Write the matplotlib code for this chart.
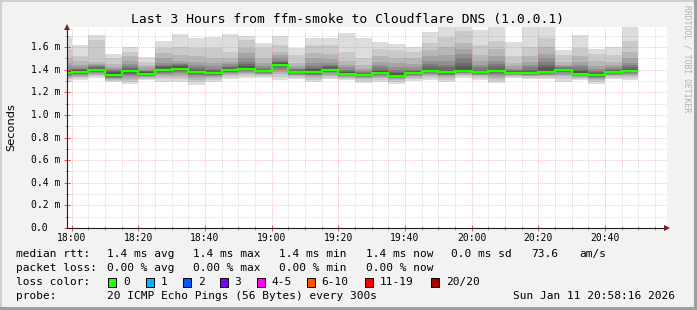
import matplotlib
matplotlib.use('Agg')
import matplotlib.pyplot as plt
import numpy as np
from matplotlib.patches import Rectangle

# ---------------- data ----------------
title = "Last 3 Hours from ffm-smoke to Cloudflare DNS (1.0.0.1)"
# bar start times in minutes relative to 18:00 (5 minute steps)
bar_start = list(range(-5, 170, 5))
median_ms = [1.373, 1.382, 1.400, 1.353, 1.388, 1.365, 1.400, 1.409, 1.382, 1.370,
             1.400, 1.409, 1.391, 1.444, 1.382, 1.382, 1.400, 1.365, 1.356, 1.373,
             1.347, 1.373, 1.391, 1.382, 1.391, 1.382, 1.391, 1.373, 1.373, 1.382,
             1.400, 1.365, 1.353, 1.382, 1.391]
# upper pings per bar: ping 20 (max) down to ping 11
pings_hi = [
    [1.690, 1.58, 1.50, 1.46, 1.43, 1.41, 1.40, 1.39, 1.385, 1.38],
    [1.618, 1.52, 1.477, 1.44, 1.42, 1.41, 1.405, 1.40, 1.395, 1.39],
    [1.706, 1.66, 1.47, 1.45, 1.44, 1.43, 1.42, 1.415, 1.41, 1.405],
    [1.538, 1.50, 1.447, 1.42, 1.41, 1.40, 1.39, 1.38, 1.37, 1.36],
    [1.597, 1.56, 1.52, 1.48, 1.45, 1.43, 1.415, 1.405, 1.40, 1.395],
    [1.509, 1.47, 1.44, 1.42, 1.40, 1.39, 1.385, 1.38, 1.375, 1.37],
    [1.653, 1.59, 1.55, 1.50, 1.46, 1.44, 1.43, 1.42, 1.41, 1.405],
    [1.715, 1.60, 1.53, 1.48, 1.46, 1.45, 1.44, 1.43, 1.42, 1.415],
    [1.683, 1.59, 1.52, 1.47, 1.44, 1.42, 1.41, 1.40, 1.39, 1.385],
    [1.690, 1.59, 1.50, 1.46, 1.43, 1.41, 1.40, 1.39, 1.38, 1.375],
    [1.712, 1.56, 1.50, 1.47, 1.45, 1.435, 1.425, 1.415, 1.41, 1.405],
    [1.697, 1.66, 1.59, 1.55, 1.50, 1.47, 1.45, 1.435, 1.425, 1.415],
    [1.633, 1.59, 1.50, 1.46, 1.43, 1.415, 1.405, 1.40, 1.395, 1.393],
    [1.697, 1.62, 1.56, 1.53, 1.50, 1.48, 1.47, 1.46, 1.455, 1.45],
    [1.594, 1.53, 1.46, 1.43, 1.415, 1.405, 1.40, 1.395, 1.39, 1.385],
    [1.683, 1.62, 1.55, 1.50, 1.46, 1.43, 1.415, 1.405, 1.395, 1.388],
    [1.677, 1.62, 1.54, 1.49, 1.46, 1.44, 1.43, 1.42, 1.41, 1.405],
    [1.720, 1.56, 1.48, 1.44, 1.42, 1.40, 1.39, 1.38, 1.375, 1.37],
    [1.677, 1.50, 1.44, 1.41, 1.39, 1.38, 1.37, 1.365, 1.36, 1.358],
    [1.647, 1.58, 1.52, 1.47, 1.44, 1.42, 1.40, 1.39, 1.385, 1.378],
    [1.624, 1.57, 1.50, 1.46, 1.42, 1.40, 1.38, 1.37, 1.36, 1.352],
    [1.603, 1.56, 1.50, 1.45, 1.42, 1.40, 1.39, 1.385, 1.38, 1.376],
    [1.730, 1.64, 1.57, 1.52, 1.48, 1.45, 1.43, 1.41, 1.40, 1.395],
    [1.800, 1.69, 1.60, 1.53, 1.48, 1.44, 1.42, 1.40, 1.39, 1.386],
    [1.800, 1.74, 1.64, 1.58, 1.54, 1.50, 1.46, 1.43, 1.41, 1.40],
    [1.750, 1.62, 1.53, 1.48, 1.44, 1.42, 1.40, 1.395, 1.39, 1.386],
    [1.780, 1.65, 1.58, 1.52, 1.48, 1.45, 1.43, 1.41, 1.40, 1.395],
    [1.647, 1.52, 1.46, 1.43, 1.41, 1.40, 1.39, 1.385, 1.38, 1.376],
    [1.780, 1.60, 1.52, 1.47, 1.44, 1.42, 1.40, 1.39, 1.38, 1.376],
    [1.780, 1.68, 1.60, 1.54, 1.50, 1.47, 1.44, 1.42, 1.40, 1.39],
    [1.574, 1.53, 1.47, 1.44, 1.43, 1.42, 1.415, 1.41, 1.405, 1.402],
    [1.706, 1.59, 1.52, 1.47, 1.44, 1.42, 1.40, 1.385, 1.375, 1.37],
    [1.583, 1.54, 1.48, 1.43, 1.41, 1.39, 1.38, 1.37, 1.36, 1.356],
    [1.603, 1.53, 1.47, 1.44, 1.42, 1.41, 1.40, 1.395, 1.39, 1.386],
    [1.780, 1.65, 1.56, 1.50, 1.46, 1.44, 1.42, 1.41, 1.40, 1.395],
]
# lower pings per bar: ping 1 (min) up to ping 10
pings_lo = [
    [1.294, 1.315, 1.33, 1.338, 1.345, 1.35, 1.355, 1.36, 1.365, 1.37],
    [1.309, 1.325, 1.335, 1.345, 1.352, 1.358, 1.363, 1.368, 1.373, 1.378],
    [1.324, 1.34, 1.355, 1.365, 1.372, 1.378, 1.383, 1.388, 1.393, 1.397],
    [1.288, 1.30, 1.31, 1.32, 1.325, 1.33, 1.335, 1.34, 1.345, 1.35],
    [1.273, 1.29, 1.31, 1.325, 1.345, 1.355, 1.365, 1.372, 1.378, 1.384],
    [1.309, 1.32, 1.33, 1.335, 1.34, 1.345, 1.35, 1.355, 1.36, 1.362],
    [1.294, 1.315, 1.335, 1.35, 1.36, 1.37, 1.378, 1.385, 1.39, 1.396],
    [1.294, 1.315, 1.335, 1.355, 1.37, 1.38, 1.388, 1.395, 1.40, 1.405],
    [1.264, 1.29, 1.31, 1.33, 1.345, 1.355, 1.362, 1.368, 1.373, 1.378],
    [1.294, 1.31, 1.325, 1.335, 1.345, 1.35, 1.355, 1.36, 1.364, 1.367],
    [1.317, 1.335, 1.35, 1.36, 1.368, 1.375, 1.382, 1.388, 1.393, 1.397],
    [1.324, 1.345, 1.36, 1.37, 1.38, 1.387, 1.393, 1.398, 1.402, 1.405],
    [1.324, 1.34, 1.35, 1.36, 1.366, 1.372, 1.377, 1.381, 1.385, 1.388],
    [1.309, 1.335, 1.36, 1.38, 1.395, 1.41, 1.42, 1.428, 1.435, 1.44],
    [1.317, 1.33, 1.34, 1.35, 1.356, 1.362, 1.367, 1.372, 1.376, 1.379],
    [1.294, 1.31, 1.325, 1.34, 1.35, 1.357, 1.363, 1.368, 1.373, 1.378],
    [1.315, 1.33, 1.345, 1.357, 1.367, 1.375, 1.382, 1.388, 1.393, 1.397],
    [1.309, 1.32, 1.33, 1.338, 1.344, 1.349, 1.353, 1.357, 1.36, 1.362],
    [1.279, 1.30, 1.315, 1.325, 1.333, 1.339, 1.344, 1.348, 1.351, 1.353],
    [1.294, 1.31, 1.325, 1.337, 1.346, 1.353, 1.359, 1.364, 1.368, 1.37],
    [1.270, 1.29, 1.305, 1.316, 1.325, 1.331, 1.336, 1.34, 1.343, 1.345],
    [1.300, 1.315, 1.33, 1.34, 1.347, 1.353, 1.359, 1.364, 1.368, 1.37],
    [1.309, 1.33, 1.345, 1.356, 1.365, 1.372, 1.377, 1.381, 1.385, 1.388],
    [1.294, 1.31, 1.325, 1.34, 1.35, 1.357, 1.363, 1.368, 1.373, 1.378],
    [1.324, 1.34, 1.352, 1.361, 1.368, 1.374, 1.379, 1.383, 1.386, 1.388],
    [1.309, 1.325, 1.34, 1.35, 1.357, 1.363, 1.368, 1.372, 1.376, 1.379],
    [1.279, 1.30, 1.32, 1.337, 1.35, 1.36, 1.368, 1.375, 1.381, 1.386],
    [1.324, 1.335, 1.345, 1.351, 1.356, 1.36, 1.363, 1.366, 1.368, 1.37],
    [1.315, 1.33, 1.34, 1.346, 1.351, 1.356, 1.36, 1.364, 1.367, 1.37],
    [1.317, 1.33, 1.34, 1.35, 1.357, 1.362, 1.367, 1.372, 1.376, 1.379],
    [1.294, 1.32, 1.34, 1.355, 1.366, 1.375, 1.382, 1.388, 1.393, 1.397],
    [1.309, 1.32, 1.33, 1.338, 1.344, 1.349, 1.353, 1.357, 1.36, 1.362],
    [1.270, 1.29, 1.305, 1.316, 1.326, 1.333, 1.339, 1.344, 1.348, 1.35],
    [1.315, 1.33, 1.34, 1.35, 1.357, 1.363, 1.368, 1.372, 1.376, 1.379],
    [1.309, 1.33, 1.345, 1.356, 1.365, 1.372, 1.377, 1.381, 1.385, 1.388],
]
xtick_min = [0, 20, 40, 60, 80, 100, 120, 140, 160]
xtick_labels = ["18:00", "18:20", "18:40", "19:00", "19:20", "19:40", "20:00", "20:20", "20:40"]
ytick_vals = [0.0, 0.2, 0.4, 0.6, 0.8, 1.0, 1.2, 1.4, 1.6]
ytick_labels = ["0.0", "0.2 m", "0.4 m", "0.6 m", "0.8 m", "1.0 m", "1.2 m", "1.4 m", "1.6 m"]
loss_labels = ["0", "1", "2", "3", "4-5", "6-10", "11-19", "20/20"]
loss_colors = ["#26ff00", "#00b8ff", "#0059ff", "#7e00ff", "#ff00ff", "#ff5500", "#ff0000", "#a10000"]

# ---------------- figure ----------------
W, H = 697, 310
MONO = "DejaVu Sans Mono"
fig = plt.figure(figsize=(W / 100, H / 100), dpi=100)
fig.patch.set_facecolor("#f2f2f2")

def fx(x):
    return x / W

def fy(y):
    return 1 - y / H

# 3d-ish border
for (x0, y0, w, h, c) in [(0, 0, W, 2, "#cfcfcf"), (0, 0, 2, H, "#cfcfcf"),
                          (0, H - 3, W, 3, "#9e9e9e"), (W - 3, 0, 3, H, "#9e9e9e")]:
    fig.patches.append(Rectangle((fx(x0), fy(y0 + h)), w / W, h / H, transform=fig.transFigure,
                                 facecolor=c, edgecolor="none", zorder=0))

L, R, T, B = 67, 667, 27, 228
ax = fig.add_axes([fx(L), fy(B), (R - L) / W, (B - T) / H])
ax.set_facecolor("white")
ax.set_xlim(-1.4, 178.6)
ax.set_ylim(0, (B - T) / 113.1)

edges = bar_start + [bar_start[-1] + 5]
hi = np.array(pings_hi)
lo = np.array(pings_lo)
half = 10
for k in range(1, half + 1):
    col = int(190 / half * (half - k)) + 50
    c = "#%02x%02x%02x" % (col, col, col)
    ax.stairs(hi[:, k - 1], edges, baseline=lo[:, k - 1], fill=True, color=c, linewidth=0,
              zorder=1, antialiased=False)

# grid
for xm in range(0, 180, 5):
    major = (xm % 20 == 0)
    ax.axvline(xm, color=("#de4f4f" if major else "#8f8f8f"), alpha=(0.5 if major else 0.45),
               lw=0.6, linestyle=(0, (1, 1.6)), zorder=2)
for yv in np.arange(0.1, 1.75, 0.1):
    major = (round(yv * 10) % 2 == 0)
    ax.axhline(yv, color=("#de4f4f" if major else "#8f8f8f"), alpha=(0.5 if major else 0.45),
               lw=0.6, linestyle=(0, (1, 1.6)), zorder=2)

# median
ax.stairs(median_ms, edges, baseline=None, color="#26ff00", linewidth=1.7, zorder=4)

# axes
for s in ["top", "right"]:
    ax.spines[s].set_visible(False)
for s in ["left", "bottom"]:
    ax.spines[s].set_color("#1f1f1f")
    ax.spines[s].set_linewidth(0.8)
    ax.spines[s].set_zorder(5)
ax.set_xticks(xtick_min)
ax.set_xticks(list(range(0, 180, 5)), minor=True)
ax.set_yticks(ytick_vals)
ax.set_yticks(list(np.arange(0.1, 1.75, 0.2)), minor=True)
ax.set_xticklabels([])
ax.set_yticklabels([])
ax.tick_params(which="major", direction="inout", length=4, width=0.7, color="#de4f4f")
ax.tick_params(which="minor", direction="inout", length=3, width=0.6, color="#8f8f8f")

# arrows
ax.plot([0], [1.0], marker="^", color="#801f1f", markersize=4.5, transform=ax.transAxes,
        clip_on=False, zorder=6, markeredgewidth=0)
ax.plot([1.0], [0], marker=">", color="#801f1f", markersize=4.5, transform=ax.transAxes,
        clip_on=False, zorder=6, markeredgewidth=0)

# tick labels
for xm, lab in zip(xtick_min, xtick_labels):
    ax.text(xm, (B - 238) / (B - T), lab, transform=ax.get_xaxis_transform(), ha="center",
            va="center", family=MONO, fontsize=7)
for yv, lab in zip(ytick_vals, ytick_labels):
    ax.text((30.7 - L) / (R - L), yv, lab, transform=ax.get_yaxis_transform(), ha="left",
            va="center", family=MONO, fontsize=7)

# title and labels
fig.text(fx(348), fy(19), title, ha="center", va="center", family=MONO, fontsize=9.4)
fig.text(fx(11), fy(127.5), "Seconds", rotation=90, ha="center", va="center",
         family="DejaVu Sans", fontsize=8.2)
fig.text(fx(687), fy(5), "RRDTOOL / TOBI OETIKER", rotation=270, ha="center", va="top",
         family=MONO, fontsize=5.8, color="#b0b0b0")

# legend lines
fs = 8
def t(x, y, s):
    fig.text(fx(x), fy(y), s, ha="left", va="center", family=MONO, fontsize=fs)

t(16, 254, "median rtt:")
for x, s in [(107, "1.4 ms avg"), (193, "1.4 ms max"), (279, "1.4 ms min"),
             (366, "1.4 ms now"), (451, "0.0 ms sd"), (531, "73.6"), (579, "am/s")]:
    t(x, 254, s)
t(16, 268, "packet loss:")
for x, s in [(107, "0.00 % avg"), (193, "0.00 % max"), (279, "0.00 % min"), (366, "0.00 % now")]:
    t(x, 268, s)
t(16, 282, "loss color:")
box_x = [108, 145.7, 182.7, 219.5, 256.7, 306.7, 365, 430.7]
for bx, lab, c in zip(box_x, loss_labels, loss_colors):
    fig.patches.append(Rectangle((fx(bx), fy(286.7)), 8.3 / W, 8.3 / H, transform=fig.transFigure,
                                 facecolor=c, edgecolor="black", linewidth=0.7))
    t(bx + 15, 282, lab)
t(16, 296, "probe:")
t(107, 296, "20 ICMP Echo Pings (56 Bytes) every 300s")
t(513, 296, "Sun Jan 11 20:58:16 2026")

fig.savefig("out.png", dpi=100, facecolor=fig.get_facecolor())
